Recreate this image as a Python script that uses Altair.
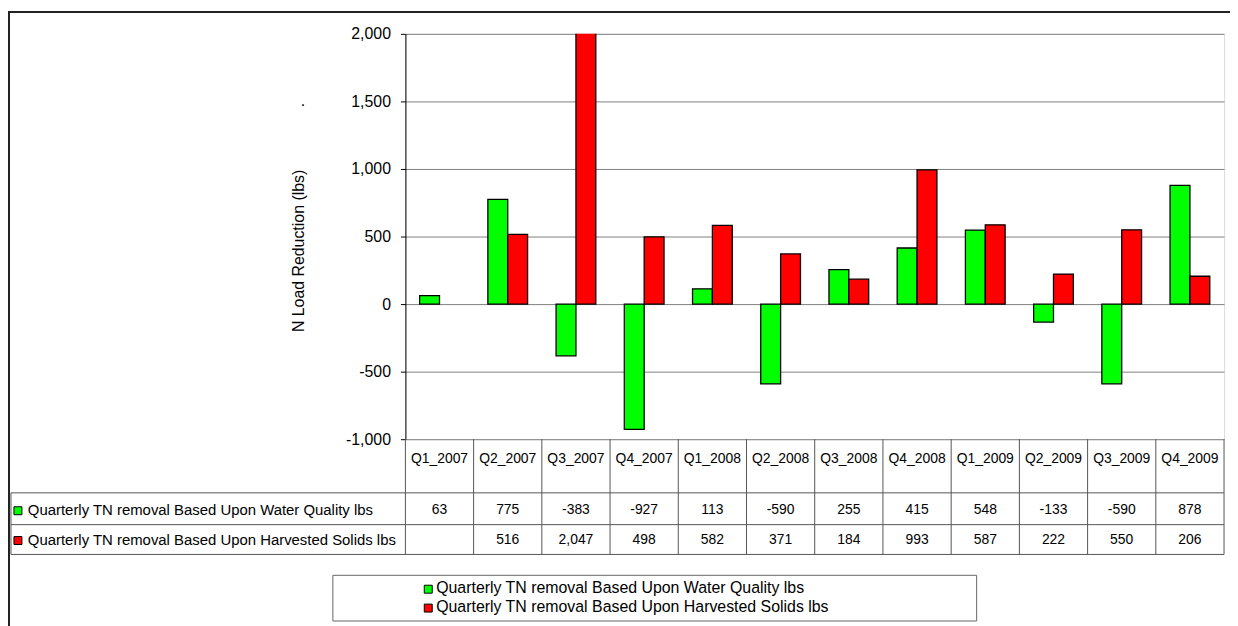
import altair as alt
import pandas as pd

quarters = ["Q1_2007", "Q2_2007", "Q3_2007", "Q4_2007", "Q1_2008", "Q2_2008",
            "Q3_2008", "Q4_2008", "Q1_2009", "Q2_2009", "Q3_2009", "Q4_2009"]
water_quality = [63, 775, -383, -927, 113, -590, 255, 415, 548, -133, -590, 878]
harvested_solids = [None, 516, 2047, 498, 582, 371, 184, 993, 587, 222, 550, 206]
series_names = ["Quarterly TN removal Based Upon Water Quality lbs",
                "Quarterly TN removal Based Upon Harvested Solids lbs"]
series_colors = ["#00FF00", "#FF0000"]
y_ticks = [-1000, -500, 0, 500, 1000, 1500, 2000]

rows = []
for q, a, b in zip(quarters, water_quality, harvested_solids):
    rows.append({"quarter": q, "series": series_names[0], "value": a})
    if b is not None:
        rows.append({"quarter": q, "series": series_names[1], "value": b})
df = pd.DataFrame(rows)
series_df = pd.DataFrame({"series": series_names})
quarter_df = pd.DataFrame({"quarter": quarters})

FONT = "Liberation Sans"
W, H = 824, 408
LINE = "#555555"
FMT = "replace(format(datum.value, ',.0f'), '\u2212', '-')"

x_enc = alt.X("quarter:N", sort=quarters,
              scale=alt.Scale(domain=quarters, paddingInner=0, paddingOuter=0),
              axis=None)
color_scale = alt.Scale(domain=series_names, range=series_colors)

bars = alt.Chart(df).mark_bar(clip=True, stroke="black", strokeWidth=1.3).encode(
    x=x_enc,
    xOffset=alt.XOffset("series:N", sort=series_names,
                        scale=alt.Scale(domain=series_names, paddingInner=0, paddingOuter=0.717)),
    y=alt.Y("value:Q",
            scale=alt.Scale(domain=[-1000, 2000], nice=False, zero=False),
            axis=alt.Axis(values=y_ticks, labelExpr=FMT, labelFont=FONT, labelFontSize=16,
                          labelColor="black", labelPadding=10, tickSize=5, tickColor="black",
                          domainColor="black", grid=True, gridColor="#808080",
                          title="N Load Reduction (lbs)", titleFont=FONT, titleFontSize=16,
                          titleFontWeight="normal", titleColor="black", titleAngle=270,
                          titleX=-108, titleY=218, titleAlign="center", titleBaseline="middle")),
    color=alt.Color("series:N", scale=color_scale, legend=None),
)

dot = alt.Chart(pd.DataFrame({"t": ["."]})).mark_text(
    font=FONT, fontSize=16, color="black").encode(
    text="t:N", x=alt.value(-103), y=alt.value(68))

# data table: header
header = alt.Chart(quarter_df).mark_text(font=FONT, fontSize=14, color="black").encode(
    x=x_enc, y=alt.value(428), text="quarter:N")

row_y = [479, 509]
layers = [bars, dot, header]
for i, name in enumerate(series_names):
    sub = df[df["series"] == name]
    layers.append(alt.Chart(sub).transform_calculate(label=FMT).mark_text(
        font=FONT, fontSize=14, color="black").encode(
        x=x_enc, y=alt.value(row_y[i]), text="label:N"))
    one = series_df[series_df["series"] == name]
    layers.append(alt.Chart(one).mark_square(size=64, filled=True, stroke="black",
                                             strokeWidth=1, opacity=1).encode(
        x=alt.value(-390), y=alt.value(row_y[i] + 1),
        color=alt.Color("series:N", scale=color_scale, legend=None)))
    layers.append(alt.Chart(one).mark_text(font=FONT, fontSize=15, color="black",
                                           align="left").encode(
        x=alt.value(-380), y=alt.value(row_y[i]), text="series:N"))

# table grid lines
vlines = alt.Chart(quarter_df).mark_rule(color=LINE, strokeWidth=1).encode(
    x=alt.X("quarter:N", sort=quarters, bandPosition=0,
            scale=alt.Scale(domain=quarters, paddingInner=0, paddingOuter=0), axis=None),
    y=alt.value(408), y2=alt.value(524))
layers.append(vlines)
layers.append(alt.Chart().mark_rule(color=LINE, strokeWidth=1).encode(
    x=alt.value(824), y=alt.value(408), y2=alt.value(524)))
layers.append(alt.Chart().mark_rule(color=LINE, strokeWidth=1).encode(
    x=alt.value(-397), y=alt.value(462), y2=alt.value(524)))
for yy in [462, 494, 524]:
    layers.append(alt.Chart().mark_rule(color=LINE, strokeWidth=1).encode(
        x=alt.value(-397), x2=alt.value(824), y=alt.value(yy)))

# outer frame
layers.append(alt.Chart().mark_rule(color="#222222", strokeWidth=2).encode(
    x=alt.value(-400), x2=alt.value(830), y=alt.value(-22)))
layers.append(alt.Chart().mark_rule(color="#222222", strokeWidth=2).encode(
    x=alt.value(-399), y=alt.value(-22), y2=alt.value(600)))

# bottom legend
layers.append(alt.Chart().mark_rect(fill="white", stroke="#666666", strokeWidth=1).encode(
    x=alt.value(-73), x2=alt.value(575), y=alt.value(545), y2=alt.value(591)))
leg_y = [558, 577]
for i, name in enumerate(series_names):
    one = series_df[series_df["series"] == name]
    layers.append(alt.Chart(one).mark_square(size=64, filled=True, stroke="black",
                                             strokeWidth=1, opacity=1).encode(
        x=alt.value(23), y=alt.value(leg_y[i] + 1),
        color=alt.Color("series:N", scale=color_scale, legend=None)))
    layers.append(alt.Chart(one).mark_text(font=FONT, fontSize=16, color="black",
                                           align="left").encode(
        x=alt.value(31), y=alt.value(leg_y[i]), text="series:N"))

chart = alt.layer(*layers).properties(
    width=W, height=H,
    padding={"left": 400, "top": 24, "right": 6, "bottom": 186},
    autosize=alt.AutoSizeParams(type="none"),
).configure_view(stroke="#808080", strokeWidth=1).configure(background="white")

chart.save("out.html", embed_options={"renderer": "svg", "actions": False})
